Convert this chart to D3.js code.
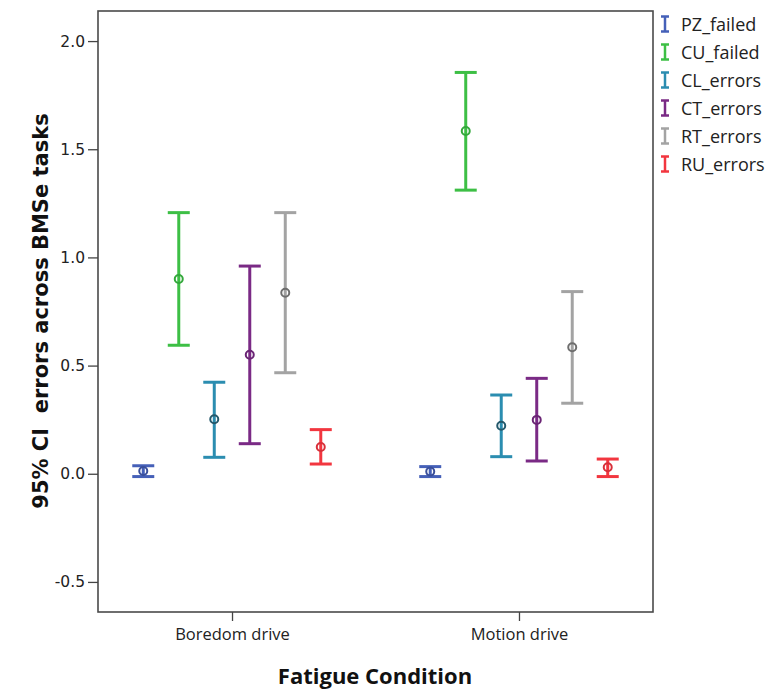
<!DOCTYPE html>
<html>
<head>
<meta charset="utf-8">
<script src="https://cdn.jsdelivr.net/npm/d3@7"></script>
<style>
  body { margin: 0; background: #fff; }
</style>
</head>
<body>
<div id="chart"></div>
<script>
// Data
var categories = ["Boredom drive", "Motion drive"];
var seriesNames = ["PZ_failed", "CU_failed", "CL_errors", "CT_errors", "RT_errors", "RU_errors"];
var seriesColors = ["#4560b8", "#3dbf45", "#2b8db0", "#7a2a85", "#a3a3a3", "#f2363f"];
var meanColors = ["#3a4f9a", "#33a83b", "#24586b", "#6a2474", "#6e6e6e", "#d8303a"];

var boredomMean = [0.013, 0.900, 0.252, 0.550, 0.837, 0.124];
var boredomLower = [-0.013, 0.594, 0.076, 0.139, 0.467, 0.045];
var boredomUpper = [0.037, 1.207, 0.423, 0.960, 1.207, 0.204];

var motionMean = [0.010, 1.584, 0.222, 0.249, 0.585, 0.030];
var motionLower = [-0.013, 1.311, 0.079, 0.059, 0.326, -0.013];
var motionUpper = [0.033, 1.855, 0.364, 0.441, 0.842, 0.068];

var yTicks = [-0.5, 0.0, 0.5, 1.0, 1.5, 2.0];

var width = 772, height = 689;
var plot = {left: 98, top: 11, right: 653, bottom: 612};

var svg = d3.select("#chart").append("svg")
    .attr("width", width)
    .attr("height", height);

// scales
var xScale = d3.scalePoint()
    .domain(categories)
    .range([plot.left, plot.right])
    .padding(0.467);

var offset = d3.scaleBand()
    .domain(seriesNames)
    .range([-106.5, 106.5]);

var yScale = d3.scaleLinear()
    .domain([-0.639, 2.139])
    .range([plot.bottom, plot.top]);

// build rows
var rows = [];
categories.forEach(function(cat, ci) {
    var m = ci === 0 ? boredomMean : motionMean;
    var lo = ci === 0 ? boredomLower : motionLower;
    var hi = ci === 0 ? boredomUpper : motionUpper;
    seriesNames.forEach(function(s, si) {
        rows.push({cat: cat, s: s, i: si, mean: m[si], lo: lo[si], hi: hi[si]});
    });
});

function xPos(d) { return xScale(d.cat) + offset(d.s) + offset.bandwidth() / 2; }

// frame
svg.append("rect")
    .attr("x", plot.left)
    .attr("y", plot.top)
    .attr("width", plot.right - plot.left)
    .attr("height", plot.bottom - plot.top)
    .attr("fill", "none")
    .attr("stroke", "#4a4a4a")
    .attr("stroke-width", 1.6);

// y axis
var yAxis = svg.append("g")
    .attr("transform", "translate(" + plot.left + ",0)")
    .call(d3.axisLeft(yScale).tickValues(yTicks)
        .tickFormat(function(d) { return d.toFixed(1); })
        .tickSize(10).tickPadding(3));
yAxis.select(".domain").remove();
yAxis.selectAll("line").attr("stroke", "#444").attr("stroke-width", 1.3);
yAxis.selectAll("text")
    .attr("fill", "#222")
    .style("font-family", "DejaVu Sans")
    .style("font-size", "15.5px");

// x axis
var xAxis = svg.append("g")
    .attr("transform", "translate(0," + plot.bottom + ")")
    .call(d3.axisBottom(xScale).tickSize(9).tickPadding(7));
xAxis.select(".domain").remove();
xAxis.selectAll("line").attr("stroke", "#444").attr("stroke-width", 1.3);
xAxis.selectAll("text")
    .attr("fill", "#222")
    .style("font-family", "Open Sans")
    .style("font-size", "16.5px");

// axis titles
svg.append("text")
    .attr("x", 375)
    .attr("y", 684)
    .attr("text-anchor", "middle")
    .style("font-family", "Open Sans")
    .style("font-weight", "bold")
    .style("font-size", "22px")
    .attr("fill", "#111")
    .text("Fatigue Condition");

svg.append("text")
    .attr("transform", "translate(48,311) rotate(-90)")
    .attr("text-anchor", "middle")
    .style("font-family", "DejaVu Sans")
    .style("font-weight", "bold")
    .style("font-size", "21px")
    .attr("fill", "#111")
    .attr("xml:space", "preserve")
    .text("95% CI  errors across BMSe tasks");

// error bars
var capW = 11;
var bars = svg.append("g").selectAll("g.bar")
    .data(rows)
    .enter().append("g")
    .attr("class", "bar");

bars.append("line")
    .attr("x1", xPos).attr("x2", xPos)
    .attr("y1", function(d) { return yScale(d.lo); })
    .attr("y2", function(d) { return yScale(d.hi); })
    .attr("stroke", function(d) { return seriesColors[d.i]; })
    .attr("stroke-width", 3);

bars.append("line")
    .attr("x1", function(d) { return xPos(d) - capW; })
    .attr("x2", function(d) { return xPos(d) + capW; })
    .attr("y1", function(d) { return yScale(d.hi); })
    .attr("y2", function(d) { return yScale(d.hi); })
    .attr("stroke", function(d) { return seriesColors[d.i]; })
    .attr("stroke-width", 3);

bars.append("line")
    .attr("x1", function(d) { return xPos(d) - capW; })
    .attr("x2", function(d) { return xPos(d) + capW; })
    .attr("y1", function(d) { return yScale(d.lo); })
    .attr("y2", function(d) { return yScale(d.lo); })
    .attr("stroke", function(d) { return seriesColors[d.i]; })
    .attr("stroke-width", 3);

bars.append("circle")
    .attr("cx", xPos)
    .attr("cy", function(d) { return yScale(d.mean); })
    .attr("r", 4)
    .attr("fill", "none")
    .attr("stroke", function(d) { return meanColors[d.i]; })
    .attr("stroke-width", 2);

// legend
var legend = svg.append("g")
    .attr("transform", "translate(665,24)");

var items = legend.selectAll("g")
    .data(seriesNames)
    .enter().append("g")
    .attr("transform", function(d, i) { return "translate(0," + (i * 28) + ")"; });

items.append("line")
    .attr("x1", 0).attr("x2", 0).attr("y1", -7.5).attr("y2", 7.5)
    .attr("stroke", function(d, i) { return seriesColors[i]; })
    .attr("stroke-width", 2.5);
items.append("line")
    .attr("x1", -4).attr("x2", 4).attr("y1", -7.5).attr("y2", -7.5)
    .attr("stroke", function(d, i) { return seriesColors[i]; })
    .attr("stroke-width", 2.5);
items.append("line")
    .attr("x1", -4).attr("x2", 4).attr("y1", 7.5).attr("y2", 7.5)
    .attr("stroke", function(d, i) { return seriesColors[i]; })
    .attr("stroke-width", 2.5);

items.append("text")
    .attr("x", 16)
    .attr("y", 6.5)
    .style("font-family", "Open Sans")
    .style("font-size", "18px")
    .attr("fill", "#222")
    .text(function(d) { return d; });
</script>
</body>
</html>
